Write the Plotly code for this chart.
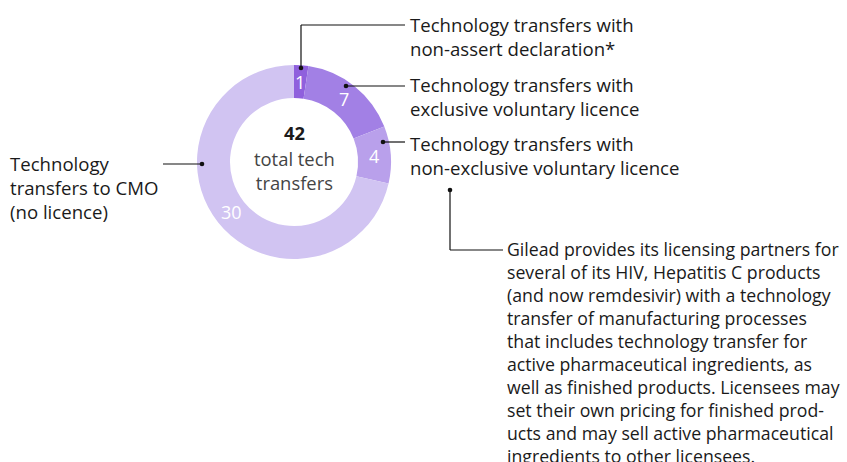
import math
import plotly.graph_objects as go

# Data
categories = [
    "Technology transfers with non-assert declaration*",
    "Technology transfers with exclusive voluntary licence",
    "Technology transfers with non-exclusive voluntary licence",
    "Technology transfers to CMO (no licence)",
]
values = [1, 7, 4, 30]
colors = ["#8f60dd", "#a280e5", "#b9a0eb", "#d1c4f2"]
total = sum(values)

W, H = 847, 462
FONT = "Open Sans"

# donut geometry in pixels
CX, CY, R = 294, 162, 97
HOLE = 0.66


def px(x):
    return x / W


def py(y):
    return 1 - y / H


fig = go.Figure(go.Pie(
    labels=categories,
    values=values,
    hole=HOLE,
    sort=False,
    direction="clockwise",
    rotation=0,
    marker=dict(colors=colors, line=dict(width=0)),
    textinfo="none",
    domain=dict(x=[px(CX - R), px(CX + R)], y=[py(CY + R), py(CY - R)]),
    showlegend=False,
    hoverinfo="label+value",
))

ann = []


def add_text(t, x, y, size=18, color="#1a1a1a", xanchor="left"):
    ann.append(dict(text=t, x=px(x), y=py(y), xref="paper", yref="paper",
                    xanchor=xanchor, yanchor="middle", showarrow=False,
                    align="left" if xanchor == "left" else "center",
                    font=dict(size=size, family=FONT, color=color)))


# slice value labels at the middle of each ring segment
rm = R * (1 + HOLE) / 2
cum = 0
for v in values:
    a = math.radians((cum + v / 2) / total * 360)
    cum += v
    add_text(str(v), CX + rm * math.sin(a), CY - rm * math.cos(a), size=18,
             color="white", xanchor="center")

line = dict(color="#111111", width=1.2)
shapes = []
segments = [
    [(301, 68), (301, 25), (405, 25)],
    [(346, 86), (405, 86)],
    [(383, 142), (405, 142)],
    [(202, 164), (163, 164)],
    [(450, 190), (450, 250), (503, 250)],
]
dots = [(301, 68), (346, 86), (383, 142), (202, 164), (450, 190)]
for seg in segments:
    for (x0, y0), (x1, y1) in zip(seg[:-1], seg[1:]):
        shapes.append(dict(type="line", xref="paper", yref="paper",
                           x0=px(x0), y0=py(y0), x1=px(x1), y1=py(y1), line=line))
for (x, y) in dots:
    r = 2.3
    shapes.append(dict(type="circle", xref="paper", yref="paper",
                       x0=px(x - r), x1=px(x + r), y0=py(y + r), y1=py(y - r),
                       fillcolor="#111111", line=dict(width=0)))

labels_right = [
    ("Technology transfers with<br>non-assert declaration*", 36),
    ("Technology transfers with<br>exclusive voluntary licence", 97),
    ("Technology transfers with<br>non-exclusive voluntary licence", 155),
]
for t, y in labels_right:
    add_text(t, 408, y, size=18.6)

add_text("Technology<br>transfers to CMO<br>(no licence)", 8, 187, size=18.6)

note = ("Gilead provides its licensing partners for<br>several of its HIV, Hepatitis C products<br>"
        "(and now remdesivir) with a technology<br>transfer of manufacturing processes<br>"
        "that includes technology transfer for<br>active pharmaceutical ingredients, as<br>"
        "well as finished products. Licensees may<br>set their own pricing for finished prod-<br>"
        "ucts and may sell active pharmaceutical<br>ingredients to other licensees.")
add_text(note, 505, 352, size=17.7)

add_text(f"<b>{total}</b>", CX, 133, size=18.4, color="#1a1a1a", xanchor="center")
add_text("total tech<br>transfers", CX, 171, size=18.4, color="#444444", xanchor="center")

fig.update_layout(
    width=W, height=H,
    margin=dict(l=0, r=0, t=0, b=0),
    paper_bgcolor="white", plot_bgcolor="white",
    shapes=shapes, annotations=ann,
    font=dict(family=FONT),
)

fig.write_html("out.html", config={"displayModeBar": False},
               post_script="document.body.style.margin='0';")
